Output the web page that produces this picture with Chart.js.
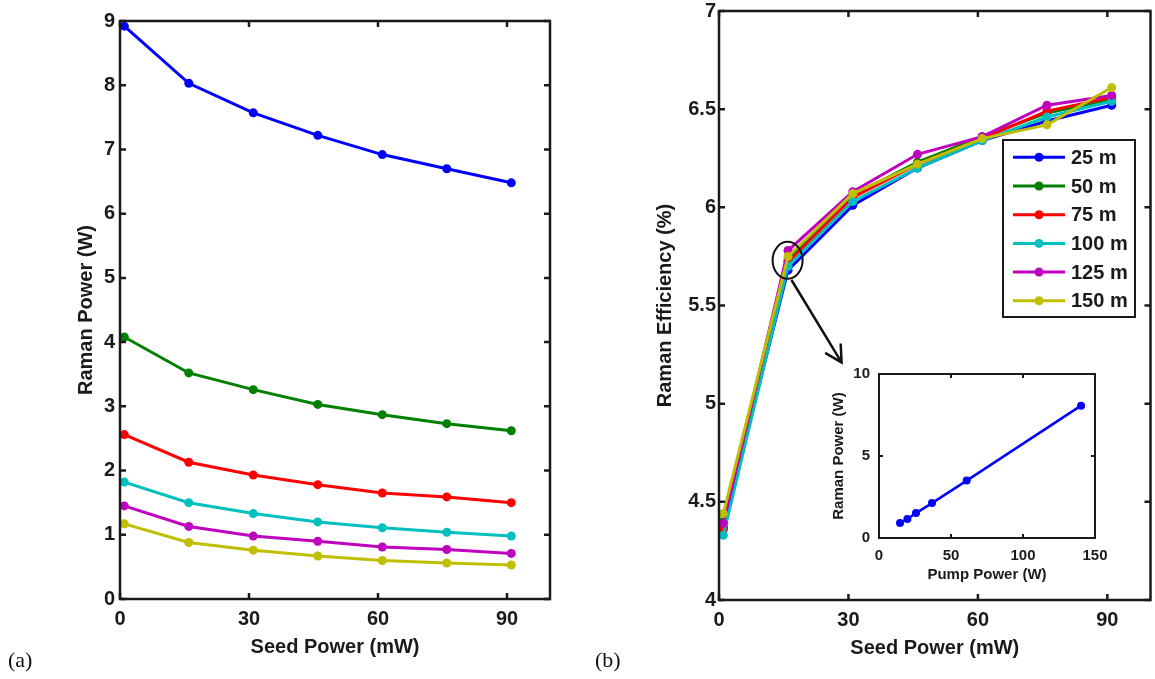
<!DOCTYPE html>
<html>
<head>
<meta charset="utf-8">
<script src="https://cdn.jsdelivr.net/npm/chart.js@4.4.0/dist/chart.umd.min.js"></script>
<style>
body { margin: 0; background: #fff; }
#wrap { position: relative; width: 1155px; height: 679px; overflow: hidden; }
canvas { position: absolute; }
.tag { position: absolute; font-family: 'Liberation Serif', 'Times New Roman', serif; font-size: 22px; color: #111; }
</style>
</head>
<body>
<div id="wrap">
  <canvas id="powerChart" width="580" height="679" style="left:0;top:0"></canvas>
  <canvas id="effChart" width="575" height="679" style="left:580px;top:0"></canvas>
  <canvas id="insetChart" width="287" height="240" style="left:820px;top:355px"></canvas>
  <div class="tag" style="left:8px;top:647px">(a)</div>
  <div class="tag" style="left:595px;top:647px">(b)</div>
</div>
<script>
// seed power steps (mW) and fibre lengths
var seedPower = [1, 16, 31, 46, 61, 76, 91];
var fiberLength = ['25 m', '50 m', '75 m', '100 m', '125 m', '150 m'];
var lineColors = ['#0000ff', '#008000', '#ff0000', '#00bfbf', '#bf00bf', '#bfbf00'];

// (a) Raman power (W)
var raman25 = [8.92, 8.03, 7.57, 7.22, 6.92, 6.70, 6.48];
var raman50 = [4.08, 3.52, 3.26, 3.03, 2.87, 2.73, 2.62];
var raman75 = [2.56, 2.13, 1.93, 1.78, 1.65, 1.59, 1.50];
var raman100 = [1.82, 1.50, 1.33, 1.20, 1.11, 1.04, 0.98];
var raman125 = [1.45, 1.13, 0.98, 0.90, 0.81, 0.77, 0.71];
var raman150 = [1.17, 0.88, 0.76, 0.67, 0.60, 0.56, 0.53];

// (b) Raman efficiency (%)
var eff25 = [4.37, 5.68, 6.01, 6.20, 6.34, 6.44, 6.52];
var eff50 = [4.40, 5.73, 6.06, 6.23, 6.36, 6.48, 6.55];
var eff75 = [4.36, 5.72, 6.05, 6.22, 6.35, 6.49, 6.56];
var eff100 = [4.33, 5.70, 6.03, 6.20, 6.34, 6.46, 6.54];
var eff125 = [4.39, 5.78, 6.08, 6.27, 6.36, 6.52, 6.57];
var eff150 = [4.44, 5.75, 6.07, 6.22, 6.35, 6.42, 6.61];

// inset: Raman power vs pump power
var pumpPower = [14.6, 19.7, 25.7, 36.8, 60.9, 140.3];
var ramanVsPump = [0.91, 1.16, 1.52, 2.13, 3.50, 8.07];

var seedTicks = [0, 30, 60, 90];
var powerTicks = [0, 1, 2, 3, 4, 5, 6, 7, 8, 9];
var effTicks = [4, 4.5, 5, 5.5, 6, 6.5, 7];
var pumpTicks = [0, 50, 100, 150];
var insetTicks = [0, 5, 10];

// zoom marker on (b), in data units
var circleAt = [15.9, 5.73];
var arrowFrom = [16.8, 5.63];
var arrowTo = [28.4, 5.21];

var FONT = "'Liberation Sans', Arial, Helvetica, sans-serif";
var INK = '#1a1a1a';

function tickList(arr) {
    return function(scale) { scale.ticks = arr.map(function(v) { return {value: v}; }); };
}

function makeSets(series, r) {
    return series.map(function(vals, i) {
        return {
            label: fiberLength[i],
            data: seedPower.map(function(x, j) { return {x: x, y: vals[j]}; }),
            borderColor: lineColors[i],
            backgroundColor: lineColors[i],
            borderWidth: 3,
            pointRadius: r,
            pointBorderWidth: 0,
            order: series.length - i
        };
    });
}

// box round the plot with inward ticks on all four sides
var matlabBox = {
    id: 'matlabBox',
    afterDatasetsDraw: function(chart, args, o) {
        var a = chart.chartArea, c = chart.ctx, len = o.tick;
        var sx = chart.scales.x, sy = chart.scales.y;
        c.save();
        c.strokeStyle = INK;
        c.lineWidth = o.width;
        c.beginPath();
        sx.ticks.forEach(function(t) {
            var px = sx.getPixelForValue(t.value);
            c.moveTo(px, a.bottom); c.lineTo(px, a.bottom - len);
            c.moveTo(px, a.top); c.lineTo(px, a.top + len);
        });
        sy.ticks.forEach(function(t) {
            var py = sy.getPixelForValue(t.value);
            c.moveTo(a.left, py); c.lineTo(a.left + len, py);
            c.moveTo(a.right, py); c.lineTo(a.right - len, py);
        });
        c.stroke();
        c.strokeRect(a.left, a.top, a.right - a.left, a.bottom - a.top);
        c.restore();
    }
};

var zoomMark = {
    id: 'zoomMark',
    afterDatasetsDraw: function(chart) {
        var c = chart.ctx, sx = chart.scales.x, sy = chart.scales.y;
        var cx = sx.getPixelForValue(circleAt[0]), cy = sy.getPixelForValue(circleAt[1]);
        var x0 = sx.getPixelForValue(arrowFrom[0]), y0 = sy.getPixelForValue(arrowFrom[1]);
        var x1 = sx.getPixelForValue(arrowTo[0]), y1 = sy.getPixelForValue(arrowTo[1]);
        c.save();
        c.strokeStyle = '#111';
        c.lineWidth = 2;
        c.beginPath();
        c.ellipse(cx, cy, 15, 18.5, 0, 0, Math.PI * 2);
        c.stroke();
        c.lineWidth = 2.5;
        c.beginPath();
        c.moveTo(x0, y0); c.lineTo(x1, y1);
        var ang = Math.atan2(y1 - y0, x1 - x0);
        c.moveTo(x1 - 19 * Math.cos(ang - 0.5), y1 - 19 * Math.sin(ang - 0.5));
        c.lineTo(x1, y1);
        c.lineTo(x1 - 19 * Math.cos(ang + 0.5), y1 - 19 * Math.sin(ang + 0.5));
        c.stroke();
        c.restore();
    }
};

var boxLegend = {
    id: 'boxLegend',
    afterDatasetsDraw: function(chart, args, o) {
        var c = chart.ctx;
        c.save();
        c.fillStyle = '#fff';
        c.fillRect(o.left, o.top, o.width, o.height);
        c.strokeStyle = INK;
        c.lineWidth = 2;
        c.strokeRect(o.left, o.top, o.width, o.height);
        c.font = 'bold 20px ' + FONT;
        c.textBaseline = 'middle';
        chart.data.datasets.forEach(function(ds, i) {
            var y = o.top + o.first + i * o.step;
            c.strokeStyle = ds.borderColor;
            c.lineWidth = 3;
            c.beginPath();
            c.moveTo(o.left + 10, y); c.lineTo(o.left + 62, y);
            c.stroke();
            c.fillStyle = ds.borderColor;
            c.beginPath();
            c.arc(o.left + 36, y, 4.5, 0, Math.PI * 2);
            c.fill();
            c.fillStyle = INK;
            c.fillText(ds.label, o.left + 68, y + 1);
        });
        c.restore();
    }
};

function axis(min, max, ticks, size, fit, title, pad, fontSize) {
    var f = {family: FONT, size: fontSize, weight: 'bold'};
    return {
        type: 'linear', min: min, max: max,
        afterBuildTicks: tickList(ticks),
        afterFit: function(s) {
            s[fit] = size;
            s.paddingTop = s.paddingBottom = s.paddingLeft = s.paddingRight = 0;
        },
        grid: {display: false, drawTicks: false},
        border: {display: false},
        ticks: {font: f, color: INK, padding: pad, callback: function(v) { return String(v); }},
        title: {display: true, text: title.text, font: f, color: INK, padding: title.padding}
    };
}

new Chart(document.getElementById('powerChart'), {
    type: 'line',
    data: {datasets: makeSets([raman25, raman50, raman75, raman100, raman125, raman150], 4.5)},
    options: {
        responsive: false,
        animation: false,
        layout: {padding: {top: 21, right: 30, left: 0, bottom: 0}},
        scales: {
            x: axis(0, 100, seedTicks, 80, 'height', {text: 'Seed Power (mW)', padding: {top: 0, bottom: 20}}, 8, 20),
            y: axis(0, 9, powerTicks, 120, 'width', {text: 'Raman Power (W)', padding: {top: 74, bottom: 0}}, 5, 20)
        },
        plugins: {
            legend: {display: false},
            tooltip: {enabled: false},
            matlabBox: {width: 2.5, tick: 6}
        }
    },
    plugins: [matlabBox]
});

new Chart(document.getElementById('effChart'), {
    type: 'line',
    data: {datasets: makeSets([eff25, eff50, eff75, eff100, eff125, eff150], 4.5)},
    options: {
        responsive: false,
        animation: false,
        layout: {padding: {top: 11, right: 4, left: 0, bottom: 0}},
        scales: {
            x: axis(0, 100, seedTicks, 79, 'height', {text: 'Seed Power (mW)', padding: {top: 0, bottom: 19}}, 8, 20),
            y: axis(4, 7, effTicks, 139, 'width', {text: 'Raman Efficiency (%)', padding: {top: 73, bottom: 0}}, 3, 20)
        },
        plugins: {
            legend: {display: false},
            tooltip: {enabled: false},
            matlabBox: {width: 2.5, tick: 6},
            boxLegend: {left: 423, top: 140, width: 132, height: 177, first: 17.3, step: 28.7}
        }
    },
    plugins: [matlabBox, zoomMark, boxLegend]
});

new Chart(document.getElementById('insetChart'), {
    type: 'line',
    data: {
        datasets: [{
            label: '25 m',
            data: pumpPower.map(function(x, j) { return {x: x, y: ramanVsPump[j]}; }),
            borderColor: lineColors[0],
            backgroundColor: lineColors[0],
            borderWidth: 2.5,
            pointRadius: 4,
            pointBorderWidth: 0
        }]
    },
    options: {
        responsive: false,
        animation: false,
        layout: {padding: {top: 19, right: 12, left: 0, bottom: 0}},
        scales: {
            x: axis(0, 150, pumpTicks, 57, 'height', {text: 'Pump Power (W)', padding: {top: 0, bottom: 11}}, 9, 15),
            y: axis(0, 10, insetTicks, 59, 'width', {text: 'Raman Power (W)', padding: {top: 10, bottom: 0}}, 9, 15)
        },
        plugins: {
            legend: {display: false},
            tooltip: {enabled: false},
            matlabBox: {width: 2, tick: 4}
        }
    },
    plugins: [matlabBox]
});
</script>
</body>
</html>
